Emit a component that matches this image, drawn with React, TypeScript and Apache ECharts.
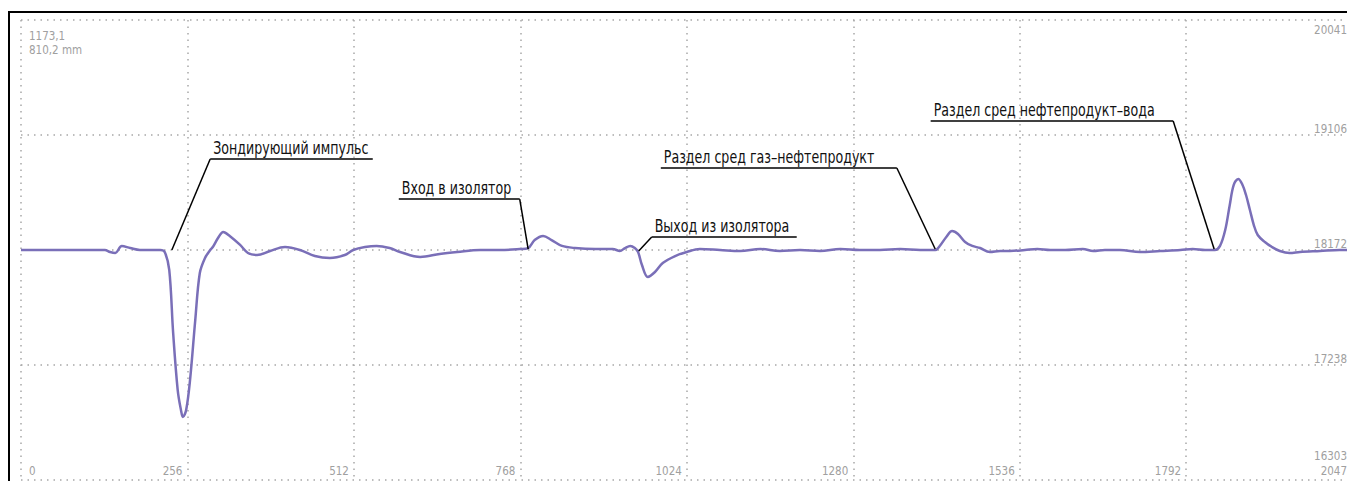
import React, { useEffect, useRef } from "react";
import * as echarts from "echarts";

// ---- data ----
const xIdx = [0, 129, 137, 145, 155, 168, 183, 214, 221, 228, 234, 241, 246, 249, 254, 260, 268, 275, 283, 291, 295, 303, 311, 321, 337, 349, 363, 383, 406, 429, 452, 475, 498, 511, 529, 547, 567, 583, 614, 644, 671, 706, 737, 767, 780, 790, 803, 816, 832, 852, 883, 910, 921, 929, 937, 944, 949, 955, 964, 975, 987, 1006, 1024, 1044, 1075, 1106, 1137, 1167, 1198, 1229, 1260, 1290, 1321, 1352, 1383, 1406, 1413, 1423, 1432, 1441, 1452, 1463, 1475, 1490, 1506, 1521, 1544, 1563, 1583, 1606, 1633, 1649, 1667, 1690, 1721, 1752, 1783, 1802, 1821, 1836, 1844, 1852, 1859, 1865, 1872, 1878, 1884, 1890, 1896, 1902, 1913, 1924, 1936, 1951, 1967, 1998, 2028, 2047];
const yVals = [18172, 18172, 18156, 18148, 18205, 18188, 18172, 18172, 18156, 18010, 17498, 17034, 16872, 16815, 16872, 17116, 17603, 17985, 18107, 18172, 18196, 18269, 18318, 18286, 18213, 18148, 18131, 18164, 18196, 18172, 18123, 18107, 18131, 18172, 18196, 18205, 18188, 18156, 18115, 18140, 18156, 18172, 18172, 18180, 18188, 18253, 18286, 18253, 18205, 18188, 18180, 18180, 18164, 18188, 18205, 18188, 18156, 18050, 17953, 17993, 18066, 18123, 18156, 18180, 18172, 18164, 18180, 18164, 18172, 18164, 18180, 18172, 18172, 18180, 18172, 18172, 18205, 18278, 18326, 18302, 18237, 18205, 18188, 18156, 18164, 18164, 18172, 18180, 18172, 18172, 18180, 18164, 18172, 18172, 18156, 18164, 18172, 18180, 18172, 18172, 18205, 18334, 18538, 18700, 18749, 18708, 18619, 18497, 18375, 18294, 18237, 18196, 18164, 18148, 18156, 18164, 18172, 18172];

const X_MIN = 0;
const X_MAX = 2047;
const X_STEP = 256;
const Y_MIN = 16303;
const Y_MAX = 20041;
const yTickLabels = ["16303", "17238", "18172", "19106", "20041"];
const infoLines = ["1173,1", "810,2 mm"];

const annTexts = [
  "Зондирующий импульс",
  "Вход в изолятор",
  "Выход из изолятора",
  "Раздел сред газ–нефтепродукт",
  "Раздел сред нефтепродукт–вода",
];
const annAnchorX = [232, 780, 950, 1406, 1835];
const annAnchorY = [18172, 18180, 18164, 18180, 18180];
const annElbowX = [291, 767, 970, 1347, 1772];
const annElbowY = [18911, 18586, 18277, 18838, 19220];
const annEndX = [541, 581, 1193, 984, 1399];

const LABEL_FONT = "'Liberation Sans Narrow', 'DejaVu Sans Condensed', sans-serif";
const GRAY = "#a0a0a0";
const DOT = { color: "#a8a8a8", width: 1.5, type: [1.5, 5] as any };
const SMALL = 11.5;

export default function App() {
  const ref = useRef<HTMLDivElement>(null);
  useEffect(() => {
    document.documentElement.style.overflow = "hidden";
    document.body.style.overflow = "hidden";
    const chart = echarts.init(ref.current!, null, { renderer: "svg" });
    const ySpan = Y_MAX - Y_MIN;
    const yStep = ySpan / 4;
    const data = xIdx.map((x, i) => [x, yVals[i] - Y_MIN]);
    chart.setOption({
      animation: false,
      grid: { left: 11, top: 7, width: 1331, height: 460, containLabel: false },
      xAxis: {
        type: "value",
        min: X_MIN,
        max: X_MAX,
        interval: X_STEP,
        axisLine: { show: false },
        axisTick: { show: false },
        splitLine: { show: true, lineStyle: DOT },
        axisLabel: {
          inside: true,
          margin: 3,
          align: "right",
          padding: [0, 5, 0, 0],
          showMinLabel: false,
          showMaxLabel: true,
          color: GRAY,
          fontSize: SMALL,
          fontFamily: LABEL_FONT,
          formatter: (v: number) => String(v),
        },
      },
      yAxis: {
        type: "value",
        position: "right",
        min: 0,
        max: ySpan,
        interval: yStep,
        axisLine: { show: false },
        axisTick: { show: false },
        splitLine: { show: true, lineStyle: DOT },
        axisLabel: {
          inside: true,
          margin: 5,
          verticalAlign: "bottom",
          showMinLabel: false,
          showMaxLabel: false,
          color: GRAY,
          fontSize: SMALL,
          fontFamily: LABEL_FONT,
          formatter: (v: number) => yTickLabels[Math.round(v / yStep)] ?? "",
        },
      },
      series: [
        {
          type: "line",
          data,
          showSymbol: false,
          smooth: 0.35,
          lineStyle: { color: "#7a6fb8", width: 2.5 },
          z: 3,
        },
      ],
    });

    const px = (x: number, y: number) =>
      chart.convertToPixel({ gridIndex: 0 }, [x, y - Y_MIN]) as number[];

    const graphics: any[] = [];
    annTexts.forEach((t, i) => {
      const a = px(annAnchorX[i], annAnchorY[i]);
      const e = px(annElbowX[i], annElbowY[i]);
      const end = px(annEndX[i], annElbowY[i]);
      graphics.push({
        type: "line",
        shape: { x1: a[0], y1: a[1], x2: e[0], y2: e[1] },
        style: { stroke: "#000", lineWidth: 1.5 },
        z: 10,
      });
      graphics.push({
        type: "line",
        shape: { x1: e[0], y1: e[1], x2: end[0], y2: end[1] },
        style: { stroke: "#000", lineWidth: 1.5 },
        z: 10,
      });
      graphics.push({
        type: "text",
        x: Math.min(e[0], end[0]) + 3,
        y: e[1] - 2,
        scaleX: 0.78,
        style: {
          text: t,
          fill: "#111",
          fontSize: 18,
          fontFamily: LABEL_FONT,
          align: "left",
          verticalAlign: "bottom",
        },
        z: 10,
      });
    });

    const o = px(X_MIN, Y_MIN);
    const tr = px(X_MAX, Y_MAX);
    infoLines.forEach((t, i) => {
      graphics.push({
        type: "text",
        x: o[0] + 8,
        y: tr[1] + 10 + i * 14,
        style: { text: t, fill: GRAY, fontSize: SMALL, fontFamily: LABEL_FONT, align: "left", verticalAlign: "top" },
      });
    });
    graphics.push({
      type: "text",
      x: tr[0] - 5,
      y: tr[1] + 4,
      style: { text: yTickLabels[4], fill: GRAY, fontSize: SMALL, fontFamily: LABEL_FONT, align: "right", verticalAlign: "top" },
    });
    graphics.push({
      type: "text",
      x: tr[0] - 5,
      y: o[1] - 18,
      style: { text: yTickLabels[0], fill: GRAY, fontSize: SMALL, fontFamily: LABEL_FONT, align: "right", verticalAlign: "bottom" },
    });
    graphics.push({
      type: "text",
      x: o[0] + 8,
      y: o[1] - 3,
      style: { text: String(X_MIN), fill: GRAY, fontSize: SMALL, fontFamily: LABEL_FONT, align: "left", verticalAlign: "bottom" },
    });
    chart.setOption({ graphic: graphics });

    return () => chart.dispose();
  }, []);

  return (
    <div style={{ marginTop: 3, border: "2px solid #000", width: 1420, height: 490, boxSizing: "border-box" }}>
      <div ref={ref} style={{ width: 1416, height: 486 }} />
    </div>
  );
}
